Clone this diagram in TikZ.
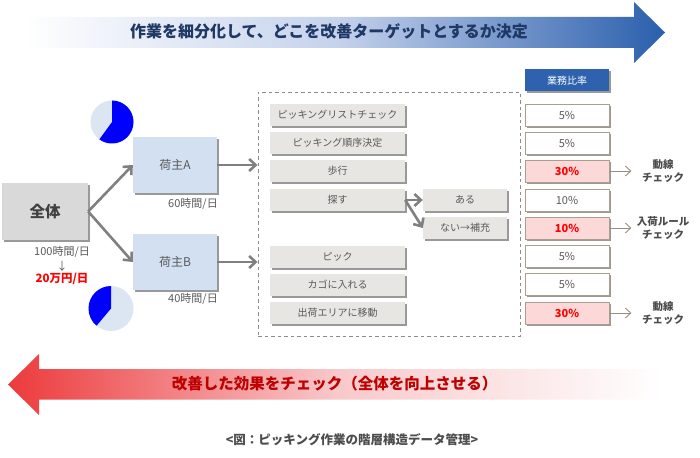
\documentclass[tikz,border=0pt]{standalone}
\usepackage{fontspec}
\setmainfont{Noto Sans CJK JP}
\usetikzlibrary{arrows.meta,shadows,calc}
\definecolor{txt}{HTML}{595959}
\definecolor{stepfill}{HTML}{E7E6E3}
\definecolor{bluefill}{HTML}{D3E0F2}
\definecolor{piel}{HTML}{DCE6F2}
\definecolor{navy}{HTML}{1F3864}
\definecolor{hdr}{HTML}{2F62AE}
\definecolor{edgeb}{HTML}{A89F8F}
\definecolor{pink}{HTML}{FDD8D8}
\definecolor{fadeb}{HTML}{C5D2EC}
\definecolor{fadec}{HTML}{2A5FAC}
\definecolor{fader}{HTML}{EC3A3C}
\definecolor{fades}{HTML}{F8C8CA}
\pgfdeclarehorizontalshading{bluefade}{100bp}{color(0bp)=(white); color(26bp)=(white); color(50bp)=(fadeb); color(75bp)=(fadec); color(100bp)=(fadec)}
\pgfdeclarehorizontalshading{redfade}{100bp}{color(0bp)=(fader); color(25bp)=(fader); color(50bp)=(fades); color(75bp)=(white); color(100bp)=(white)}
\tikzset{
  softshadow/.style={drop shadow={shadow xshift=1.5pt,shadow yshift=-1.8pt,fill=black,opacity=.4}},
  base/.style={font=\fontsize{10}{12}\selectfont,text=txt,inner sep=0pt,align=center},
  box/.style={base,minimum width=#1,softshadow},
  stepbox/.style={box=135pt,minimum height=22pt,fill=stepfill},
  subbox/.style={box=84pt,minimum height=22pt,fill=stepfill},
  ratebox/.style={box=84pt,minimum height=22pt,fill=white,draw=edgeb,line width=.9pt,font=\fontsize{11}{13}\selectfont},
  hotbox/.style={ratebox,fill=pink,text=red,font=\fontsize{11}{13}\selectfont\bfseries},
  ownerbox/.style={box=84pt,minimum height=56pt,fill=bluefill,font=\fontsize{12}{14}\selectfont},
  bigarrow/.style={draw=gray,line width=2.6pt,-{Straight Barb[length=6.5pt,width=12pt,line width=2.6pt]}},
  thinarrow/.style={draw=edgeb!90!black,line width=.9pt,-{Straight Barb[length=5.5pt,width=10pt]}},
  note/.style={base,font=\fontsize{11}{13}\selectfont},
  checklabel/.style={base,font=\fontsize{10.5}{13}\selectfont\bfseries,text=black!70},
}
\begin{document}
\begin{tikzpicture}[x=1pt,y=-1pt]
\useasboundingbox (0,0) rectangle (700,457);
% banner arrows
\shade[shading=bluefade] (10,17) -- (634,17) -- (634,2) -- (665,32.5) -- (634,63) -- (634,48) -- (10,48) -- cycle;
\node[base,font=\fontsize{16}{18}\selectfont\bfseries,text=navy] (toptitle) at (329,31) {作業を細分化して、どこを改善ターゲットとするか決定};
\shade[shading=redfade] (662,369) -- (39,369) -- (39,354) -- (8,384.5) -- (39,415) -- (39,399.5) -- (662,399.5) -- cycle;
\node[base,font=\fontsize{15.5}{18}\selectfont\bfseries,text=red!75!black] (bottitle) at (334.5,384) {改善した効果をチェック（全体を向上させる）};
\node[base,font=\fontsize{12.5}{14}\selectfont\bfseries,text=black!70] (caption) at (352,440) {<図：ピッキング作業の階層構造データ管理>};
% left
\node[box=86pt,minimum height=57pt,fill=black!15,font=\fontsize{15.5}{18}\selectfont\bfseries,text=black!75] (all) at (45,211.5) {全体};
\node[ownerbox] (ownerA) at (175,165) {荷主A};
\node[ownerbox] (ownerB) at (175,262) {荷主B};
\node[note] (hA) at (193,204) {60時間/日};
\node[note] (hB) at (193,299) {40時間/日};
\node[note] (hAll) at (62,252) {100時間/日};
\node[note] (down) at (62,266) {↓};
\node[note,text=red,font=\fontsize{11.5}{13}\selectfont\bfseries] (cost) at (62,278.5) {20万円/日};
% pies
\fill[piel] (112,122) circle (21.5);
\fill[blue] (112,122) -- (112,100.5) arc[start angle=-90,delta angle=216,radius=21.5] -- cycle;
\fill[piel] (111,308.5) circle (22.5);
\fill[blue] (111,308.5) -- (111,286) arc[start angle=-90,delta angle=-140,radius=22.5] -- cycle;
% dashed frame
\node[draw=gray!90,dash pattern=on 3.5pt off 3pt,line width=.9pt,minimum width=262pt,minimum height=244pt,inner sep=0pt] (frame) at (389,214) {};
% steps
\node[stepbox] (s1) at (337.5,115) {ピッキングリストチェック};
\node[stepbox] (s2) at (337.5,143) {ピッキング順序決定};
\node[stepbox] (s3) at (337.5,171) {歩行};
\node[stepbox] (s4) at (337.5,200) {探す};
\node[stepbox] (s5) at (337.5,257) {ピック};
\node[stepbox] (s6) at (337.5,285) {カゴに入れる};
\node[stepbox] (s7) at (337.5,313) {出荷エリアに移動};
\node[subbox] (b1) at (465,200) {ある};
\node[subbox] (b2) at (465,228) {ない→補充};
% rates
\node[box=84pt,minimum height=22pt,fill=hdr,text=white,font=\fontsize{10}{12}\selectfont] (head) at (567,80.5) {業務比率};
\node[ratebox] (r1) at (567,115) {5\%};
\node[ratebox] (r2) at (567,143) {5\%};
\node[hotbox] (r3) at (567,171) {30\%};
\node[ratebox] (r4) at (567,200) {10\%};
\node[hotbox] (r5) at (567,228) {10\%};
\node[ratebox] (r6) at (567,256.5) {5\%};
\node[ratebox] (r7) at (567,284.5) {5\%};
\node[hotbox] (r8) at (567,313) {30\%};
\node[checklabel] (c1) at (663,171) {動線\\チェック};
\node[checklabel] (c2) at (663,228) {入荷ルール\\チェック};
\node[checklabel] (c3) at (663,313) {動線\\チェック};
% connectors
\draw[bigarrow] (all.east) -- (ownerA.west);
\draw[bigarrow] (all.east) -- (ownerB.west);
\draw[bigarrow] (ownerA.east) -- (ownerA.east -| frame.west);
\draw[bigarrow] (ownerB.east) -- (ownerB.east -| frame.west);
\draw[bigarrow] (s4.east) -- (b1.west);
\draw[bigarrow] (s4.east) -- (b2.west);
\draw[thinarrow] (r3.east) -- ++(22,0) coordinate (e1);
\draw[thinarrow] (r5.east) -- ++(22,0) coordinate (e2);
\draw[thinarrow] (r8.east) -- ++(22,0) coordinate (e3);
\end{tikzpicture}
\end{document}
